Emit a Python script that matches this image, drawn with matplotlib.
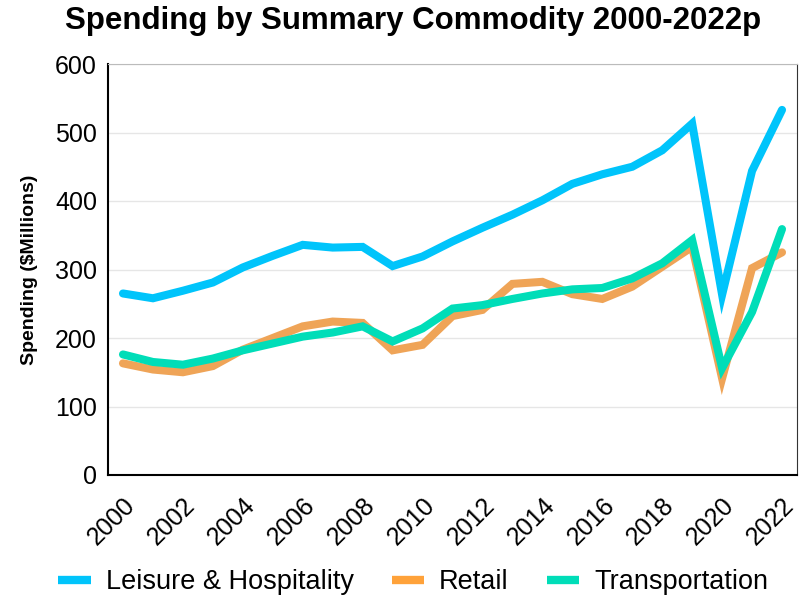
import matplotlib.pyplot as plt

plt.rcParams['font.family'] = ['Liberation Sans', 'DejaVu Sans']

years = list(range(2000, 2023))
leisure = [265, 258, 269, 281, 303, 320, 336, 332, 333, 305, 319, 341, 361, 380, 401, 425, 439, 450, 474, 513, 263, 444, 533]
retail = [163, 154, 150, 159, 183, 200, 217, 224, 222, 182, 190, 232, 241, 279, 282, 264, 257, 275, 304, 333, 141, 302, 325]
transport = [176, 165, 161, 170, 182, 192, 202, 208, 217, 195, 214, 243, 248, 257, 265, 271, 273, 287, 309, 343, 156, 238, 359]

fig = plt.figure(figsize=(8.1, 5.97), dpi=100)
ax = fig.add_axes([108 / 810, 1 - 475 / 597, 689 / 810, 411 / 597])

lw = 5.8
ax.plot(years, leisure, color='#00c4fb', lw=lw, solid_capstyle='round', solid_joinstyle='miter', label='Leisure & Hospitality')
ax.plot(years, retail, color='#efa457', lw=lw, solid_capstyle='round', solid_joinstyle='miter', label='Retail')
ax.plot(years, transport, color='#00ddb8', lw=lw, solid_capstyle='round', solid_joinstyle='miter', label='Transportation')

ax.set_xlim(1999.5, 2022.5)
ax.set_ylim(0, 600)
ax.set_yticks(range(0, 601, 100))
ax.set_xticks(range(2000, 2023, 2))
ax.tick_params(axis='y', labelsize=18, length=0, pad=8)
ax.tick_params(axis='x', labelsize=18, length=0, pad=13)
plt.setp(ax.get_xticklabels(), rotation=45, ha='right', rotation_mode='anchor')
ax.grid(axis='y', color='#e6e6e6', lw=1)
ax.set_axisbelow(True)

for side in ['left', 'bottom']:
    ax.spines[side].set_color('black')
    ax.spines[side].set_linewidth(1.5)
ax.spines['top'].set_color('#bbbbbb')
ax.spines['right'].set_color('#333333')

ax.set_ylabel('Spending ($Millions)', fontsize=14, fontweight='bold')
ax.yaxis.set_label_coords(-70 / 689, 0.5)
fig.suptitle('Spending by Summary Commodity 2000-2022p', fontsize=22.5, fontweight='bold', x=0.51, y=0.99)

handles, labels = ax.get_legend_handles_labels()
leg = fig.legend(handles, labels, loc='center', bbox_to_anchor=(0.51, 1 - 582 / 597), ncol=3,
                 frameon=False, fontsize=19.5, handlelength=1.2, columnspacing=1.4, handletextpad=0.55)
for h in leg.get_lines():
    h.set_linewidth(6)
    h.set_solid_capstyle('butt')
leg.get_lines()[1].set_color('#ffa23a')

fig.savefig('out.png', dpi=100)
